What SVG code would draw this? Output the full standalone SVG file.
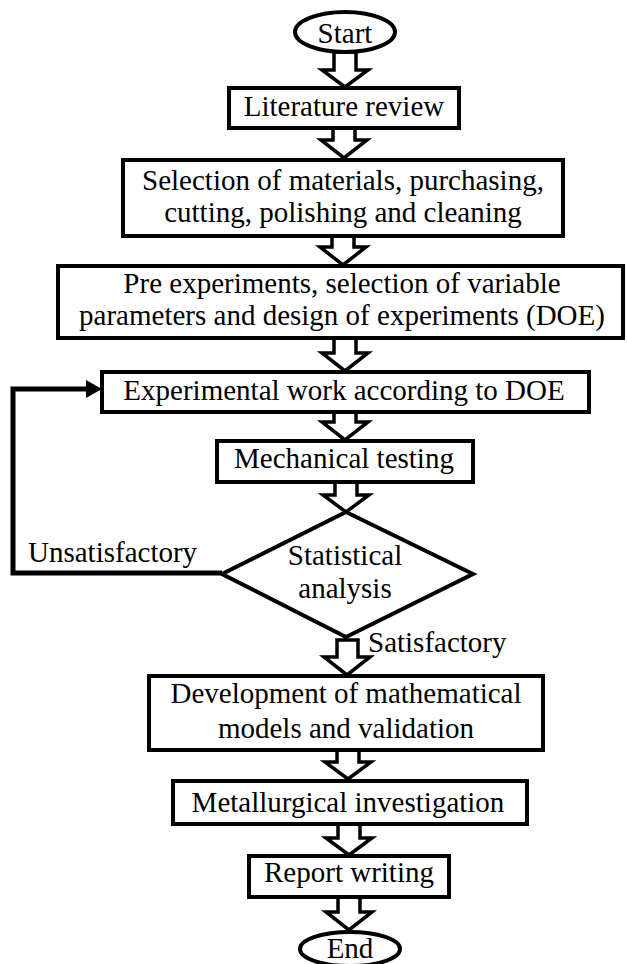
<svg xmlns="http://www.w3.org/2000/svg" width="627" height="964" viewBox="0 0 627 964">
<style>
.bx{fill:#fff;stroke:#000;stroke-width:4}
.ba{fill:#fff;stroke:#000;stroke-width:3.5;stroke-linejoin:miter}
text{font-family:'Liberation Serif','Times New Roman','DejaVu Serif',serif;font-size:29px;fill:#000}
.t{text-anchor:middle}
.loop{fill:none;stroke:#000;stroke-width:5}
</style>
<rect width="627" height="964" fill="#fff"/>
<g id="connectors">
<path class="ba" d="M334,52 L356,52 L356,70 L368,70 L345,87 L322,70 L334,70 Z"/>
<path class="ba" d="M333,128 L355,128 L355,140 L367,140 L344,158 L321,140 L333,140 Z"/>
<path class="ba" d="M332,236 L354,236 L354,247 L366,247 L343,265 L320,247 L332,247 Z"/>
<path class="ba" d="M334,338 L356,338 L356,353 L368,353 L345,371 L322,353 L334,353 Z"/>
<path class="ba" d="M334,412 L356,412 L356,422 L368,422 L345,440 L322,422 L334,422 Z"/>
<path class="ba" d="M335,482 L357,482 L357,495 L369,495 L346,512 L323,495 L335,495 Z"/>
<path class="ba" d="M337,640 L358,640 L358,657 L370,657 L347,675 L324,657 L337,657 Z"/>
<path class="ba" d="M337,750 L359,750 L359,762 L371,762 L348,779 L325,762 L337,762 Z"/>
<path class="ba" d="M338,824 L360,824 L360,838 L372,838 L349,855 L326,838 L338,838 Z"/>
<path class="ba" d="M338,897 L360,897 L360,912 L372,912 L349,930 L326,912 L338,912 Z"/>
<path class="loop" d="M222,573 L13,573 L13,389 L88,389"/>
<path d="M86,380 L102,389 L86,398 Z" fill="#000"/>
<text x="28" y="562">Unsatisfactory</text>
<text x="368" y="652">Satisfactory</text>
</g>
<g id="start">
<ellipse class="bx" cx="345" cy="32" rx="50" ry="20"/>
<text class="t" x="345" y="43">Start</text>
</g>
<g id="literature">
<rect class="bx" x="229" y="88" width="230" height="40"/>
<text class="t" x="344" y="116">Literature review</text>
</g>
<g id="selection">
<rect class="bx" x="123" y="160" width="440" height="76"/>
<text class="t" x="343" y="190">Selection of materials, purchasing,</text>
<text class="t" x="343" y="222">cutting, polishing and cleaning</text>
</g>
<g id="pre">
<rect class="bx" x="58" y="266" width="565" height="72"/>
<text class="t" x="342" y="293">Pre experiments, selection of variable</text>
<text class="t" x="342" y="325">parameters and design of experiments (DOE)</text>
</g>
<g id="experimental">
<rect class="bx" x="102" y="372" width="487" height="40"/>
<text class="t" x="344" y="400">Experimental work according to DOE</text>
</g>
<g id="mechanical">
<rect class="bx" x="217" y="441" width="256" height="41"/>
<text class="t" x="344" y="468">Mechanical testing</text>
</g>
<g id="statistical">
<polygon class="bx" points="346,512 473,574 346,637 222,574"/>
<text class="t" x="345" y="565">Statistical</text>
<text class="t" x="345" y="598">analysis</text>
</g>
<g id="development">
<rect class="bx" x="149" y="676" width="394" height="74"/>
<text class="t" x="346" y="703">Development of mathematical</text>
<text class="t" x="346" y="738">models and validation</text>
</g>
<g id="metallurgical">
<rect class="bx" x="173" y="781" width="354" height="43"/>
<text class="t" x="348" y="812">Metallurgical investigation</text>
</g>
<g id="report">
<rect class="bx" x="249" y="856" width="200" height="41"/>
<text class="t" x="349" y="882">Report writing</text>
</g>
<g id="end">
<ellipse class="bx" cx="350" cy="949" rx="50" ry="17"/>
<text class="t" x="350" y="958">End</text>
</g>
</svg>
